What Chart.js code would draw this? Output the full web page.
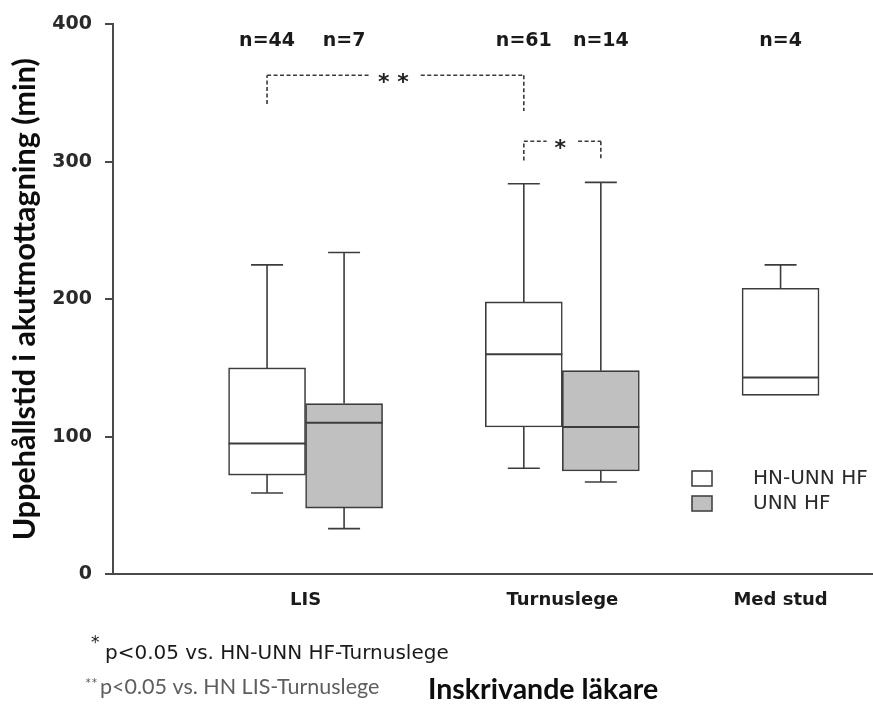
<!DOCTYPE html>
<html>
<head>
<meta charset="utf-8">
<script src="https://cdn.jsdelivr.net/npm/chart.js@4.4.1/dist/chart.umd.min.js"></script>
<style>
  html, body { margin: 0; padding: 0; background: #fff; }
  #wrap { width: 873px; height: 706px; }
</style>
</head>
<body>
<div id="wrap"><canvas id="boxChart" width="873" height="706"></canvas></div>
<script>
// Grupper (inskrivande läkare) och serier
const groups = ["LIS", "Turnuslege", "Med stud"];
const seriesNames = ["HN-UNN HF", "UNN HF"];

// HN-UNN HF: min, Q1, median, Q3, max (min)
const hnMin = [59, 77, 130];
const hnQ1 = [72, 107, 130];
const hnMedian = [95, 160, 143];
const hnQ3 = [150, 198, 208];
const hnMax = [225, 284, 225];
const hnCount = [44, 61, 4];

// UNN HF (ingen Med stud)
const unnMin = [33, 67, null];
const unnQ1 = [48, 75, null];
const unnMedian = [110, 107, null];
const unnQ3 = [124, 148, null];
const unnMax = [234, 285, null];
const unnCount = [7, 14, null];

// Signifikans: från [grupp, serie] till [grupp, serie], nivå och ändar i minuter
const sigLabels = ["* *", "*"];
const sigFrom = [[0, 0], [1, 0]];
const sigTo = [[1, 0], [1, 1]];
const sigLevel = [363, 315];
const sigEnds = [[342, 337], [301, 301]];

const stats = [
  { min: hnMin, q1: hnQ1, median: hnMedian, q3: hnQ3, max: hnMax, n: hnCount },
  { min: unnMin, q1: unnQ1, median: unnMedian, q3: unnQ3, max: unnMax, n: unnCount },
];
const fills = ["#ffffff", "#c0c0c0"];
const lineColor = "#3c3c3c";
const boxOffset = 0.15;
const boxWidth = 77;
const capWidth = 32;

function boxX(g, s) {
  return g + 1 + (s === 0 ? -boxOffset : boxOffset);
}

// etiketten hamnar mitt under de lådor som finns i gruppen
const groupTicks = groups.map((_, g) => {
  const xs = stats.filter((st) => st.median[g] != null).map((_, s) => boxX(g, s));
  return xs.reduce((a, b) => a + b, 0) / xs.length;
});

const datasets = stats.map((st, s) => ({
  label: seriesNames[s],
  data: groups
    .map((_, g) => (st.q1[g] == null ? null : { x: boxX(g, s), y: [st.q1[g], st.q3[g]] }))
    .filter(Boolean),
  backgroundColor: fills[s],
  borderColor: lineColor,
  borderWidth: 1.6,
  borderSkipped: false,
  barThickness: boxWidth,
  grouped: false,
}));

function hLine(ctx, x1, x2, y) {
  ctx.beginPath();
  ctx.moveTo(x1, y);
  ctx.lineTo(x2, y);
  ctx.stroke();
}
function vLine(ctx, x, y1, y2) {
  ctx.beginPath();
  ctx.moveTo(x, y1);
  ctx.lineTo(x, y2);
  ctx.stroke();
}

// whiskers, medianer, n-etiketter, signifikans, legend och fotnoter
const boxPlotExtras = {
  id: "boxPlotExtras",
  afterDatasetsDraw(chart) {
    const ctx = chart.ctx;
    const xs = chart.scales.x;
    const ys = chart.scales.y;
    ctx.save();
    ctx.strokeStyle = lineColor;

    stats.forEach((st, s) => {
      groups.forEach((_, g) => {
        if (st.median[g] == null) return;
        const cx = xs.getPixelForValue(boxX(g, s));
        ctx.lineWidth = 1.6;
        // övre whisker
        vLine(ctx, cx, ys.getPixelForValue(st.q3[g]), ys.getPixelForValue(st.max[g]));
        hLine(ctx, cx - capWidth / 2, cx + capWidth / 2, ys.getPixelForValue(st.max[g]));
        // nedre whisker
        if (st.min[g] < st.q1[g]) {
          vLine(ctx, cx, ys.getPixelForValue(st.q1[g]), ys.getPixelForValue(st.min[g]));
          hLine(ctx, cx - capWidth / 2, cx + capWidth / 2, ys.getPixelForValue(st.min[g]));
        }
        // median
        ctx.lineWidth = 2;
        hLine(ctx, cx - boxWidth / 2, cx + boxWidth / 2, ys.getPixelForValue(st.median[g]));

        // antal
        ctx.fillStyle = "#1a1a1a";
        ctx.font = "bold 19px 'DejaVu Sans'";
        ctx.textAlign = "center";
        ctx.textBaseline = "middle";
        ctx.fillText("n=" + st.n[g], cx, ys.getPixelForValue(388));
      });
    });

    // signifikansklamrar
    ctx.setLineDash([4, 2.5]);
    ctx.lineWidth = 1.6;
    ctx.strokeStyle = "#3a3a3a";
    sigLabels.forEach((lab, i) => {
      const x1 = xs.getPixelForValue(boxX(sigFrom[i][0], sigFrom[i][1]));
      const x2 = xs.getPixelForValue(boxX(sigTo[i][0], sigTo[i][1]));
      const y = ys.getPixelForValue(sigLevel[i]);
      const mid = (x1 + x2) / 2;
      ctx.font = "bold 22px 'DejaVu Sans'";
      const gap = ctx.measureText(lab).width / 2 + 10;
      vLine(ctx, x1, ys.getPixelForValue(sigEnds[i][0]), y);
      hLine(ctx, x1, mid - gap, y);
      hLine(ctx, mid + gap, x2, y);
      vLine(ctx, x2, y, ys.getPixelForValue(sigEnds[i][1]));
      ctx.fillStyle = "#222";
      ctx.textAlign = "center";
      ctx.textBaseline = "alphabetic";
      ctx.fillText(lab, mid - 2, y + 14);
    });
    ctx.setLineDash([]);

    // legend
    ctx.lineWidth = 1.6;
    ctx.strokeStyle = "#444";
    ctx.font = "20px 'DejaVu Sans'";
    ctx.textAlign = "left";
    ctx.textBaseline = "middle";
    seriesNames.forEach((name, s) => {
      const top = 471 + s * 25;
      ctx.fillStyle = fills[s];
      ctx.fillRect(692, top, 20, 15);
      ctx.strokeRect(692, top, 20, 15);
      ctx.fillStyle = "#2a2a2a";
      ctx.fillText(name, 753, top + 8);
    });
    ctx.restore();
  },
  afterDraw(chart) {
    const ctx = chart.ctx;
    ctx.save();
    ctx.textAlign = "left";
    ctx.textBaseline = "alphabetic";

    ctx.fillStyle = "#1a1a1a";
    ctx.font = "17px 'DejaVu Sans'";
    ctx.fillText("*", 91, 648);
    ctx.font = "20px 'DejaVu Sans'";
    ctx.fillText("p<0.05 vs. HN-UNN HF-Turnuslege", 105, 659);

    ctx.fillStyle = "#5e5e5e";
    ctx.font = "15px Lato";
    ctx.fillText("**", 85, 689);
    ctx.font = "21.5px Lato";
    ctx.fillText("p<0.05 vs. HN LIS-Turnuslege", 100, 694);

    ctx.fillStyle = "#0d0d0d";
    ctx.font = "bold 28.5px Lato";
    ctx.fillText("Inskrivande läkare", 428, 699);
    ctx.restore();
  },
};

new Chart(document.getElementById("boxChart").getContext("2d"), {
  type: "bar",
  data: { datasets },
  plugins: [boxPlotExtras],
  options: {
    responsive: false,
    animation: false,
    layout: { padding: { top: 19, right: 0, bottom: 0, left: 0 } },
    plugins: {
      legend: { display: false },
      tooltip: { enabled: false },
    },
    scales: {
      x: {
        type: "linear",
        offset: false,
        min: 0.25,
        max: 3.21,
        afterFit: (scale) => {
          scale.height = 132;
        },
        afterBuildTicks: (scale) => {
          scale.ticks = groupTicks.map((v) => ({ value: v }));
        },
        grid: { display: false, offset: false },
        border: { display: true, color: "#4a4a4a", width: 2 },
        ticks: {
          autoSkip: false,
          maxRotation: 0,
          padding: 8,
          color: "#1a1a1a",
          font: { family: "DejaVu Sans", weight: "bold", size: 18 },
          callback: (value, index) => groups[index],
        },
      },
      y: {
        min: 0,
        max: 400,
        afterFit: (scale) => {
          scale.width = 113;
        },
        grid: {
          drawOnChartArea: false,
          drawTicks: true,
          tickLength: 8,
          color: "#4a4a4a",
          lineWidth: 2,
        },
        border: { display: true, color: "#4a4a4a", width: 2 },
        ticks: {
          stepSize: 100,
          padding: 13,
          color: "#2a2a2a",
          font: { family: "DejaVu Sans", weight: "bold", size: 19 },
        },
        title: {
          display: true,
          text: "Uppehållstid i akutmottagning (min)",
          color: "#0d0d0d",
          padding: { top: 7, bottom: 0 },
          font: { family: "Lato", weight: "bold", size: 30.5 },
        },
      },
    },
  },
});
</script>
</body>
</html>
